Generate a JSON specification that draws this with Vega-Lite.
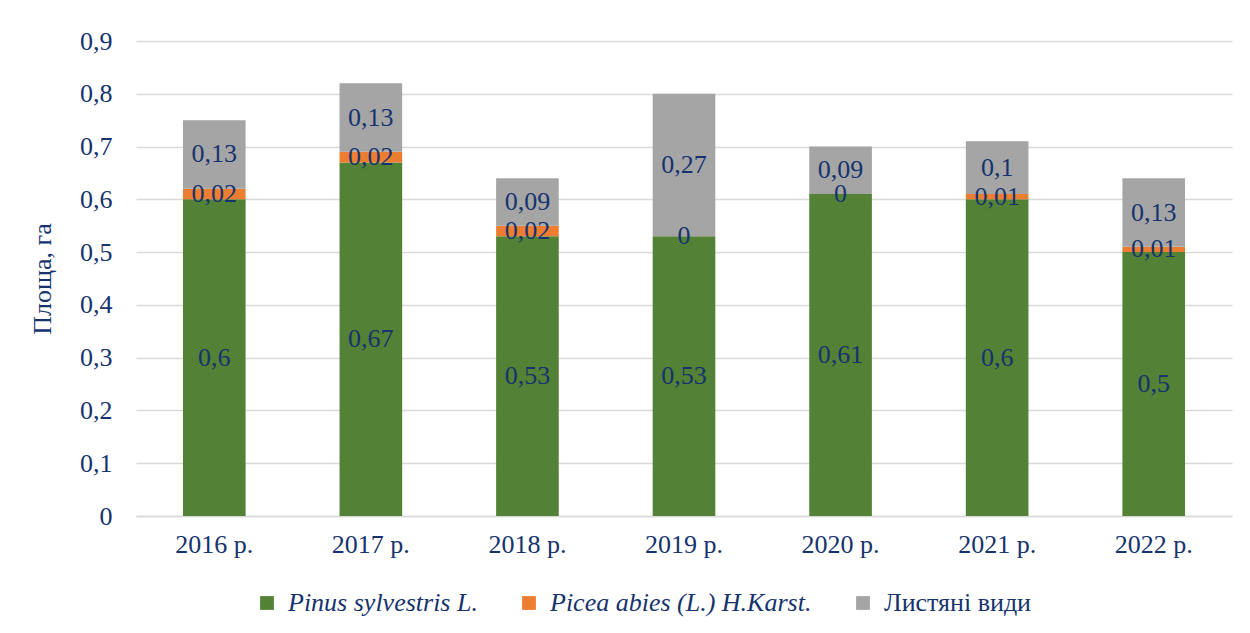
{
  "$schema": "https://vega.github.io/schema/vega-lite/v6.json",
  "width": 1096,
  "height": 475,
  "autosize": {"type": "none"},
  "padding": {"left": 136, "top": 41, "right": 18, "bottom": 117},
  "background": "white",
  "config": {
    "locale": {"number": {"decimal": ",", "thousands": " ", "grouping": [3], "currency": ["", ""]}},
    "font": "Liberation Serif",
    "view": {"stroke": null}
  },
  "data": {
    "values": [
      {"year": "2016 р.", "species": "Pinus sylvestris L.", "k": 1, "value": 0.6},
      {"year": "2016 р.", "species": "Picea abies (L.) H.Karst.", "k": 2, "value": 0.02},
      {"year": "2016 р.", "species": "Листяні види", "k": 3, "value": 0.13},
      {"year": "2017 р.", "species": "Pinus sylvestris L.", "k": 1, "value": 0.67},
      {"year": "2017 р.", "species": "Picea abies (L.) H.Karst.", "k": 2, "value": 0.02},
      {"year": "2017 р.", "species": "Листяні види", "k": 3, "value": 0.13},
      {"year": "2018 р.", "species": "Pinus sylvestris L.", "k": 1, "value": 0.53},
      {"year": "2018 р.", "species": "Picea abies (L.) H.Karst.", "k": 2, "value": 0.02},
      {"year": "2018 р.", "species": "Листяні види", "k": 3, "value": 0.09},
      {"year": "2019 р.", "species": "Pinus sylvestris L.", "k": 1, "value": 0.53},
      {"year": "2019 р.", "species": "Picea abies (L.) H.Karst.", "k": 2, "value": 0},
      {"year": "2019 р.", "species": "Листяні види", "k": 3, "value": 0.27},
      {"year": "2020 р.", "species": "Pinus sylvestris L.", "k": 1, "value": 0.61},
      {"year": "2020 р.", "species": "Picea abies (L.) H.Karst.", "k": 2, "value": 0},
      {"year": "2020 р.", "species": "Листяні види", "k": 3, "value": 0.09},
      {"year": "2021 р.", "species": "Pinus sylvestris L.", "k": 1, "value": 0.6},
      {"year": "2021 р.", "species": "Picea abies (L.) H.Karst.", "k": 2, "value": 0.01},
      {"year": "2021 р.", "species": "Листяні види", "k": 3, "value": 0.1},
      {"year": "2022 р.", "species": "Pinus sylvestris L.", "k": 1, "value": 0.5},
      {"year": "2022 р.", "species": "Picea abies (L.) H.Karst.", "k": 2, "value": 0.01},
      {"year": "2022 р.", "species": "Листяні види", "k": 3, "value": 0.13}
    ]
  },
  "transform": [
    {"stack": "value", "groupby": ["year"], "sort": [{"field": "k", "order": "ascending"}], "as": ["y0", "y1"]},
    {"calculate": "(datum.y0 + datum.y1) / 2", "as": "mid"}
  ],
  "encoding": {
    "x": {
      "field": "year", "type": "nominal",
      "scale": {"paddingInner": 0.6, "paddingOuter": 0.3},
      "axis": {
        "title": null, "labelAngle": 0, "ticks": false,
        "domainColor": "#d9d9d9", "domainWidth": 1.5,
        "labelFontSize": 26, "labelColor": "#16336E", "labelPadding": 15
      }
    }
  },
  "layer": [
    {
      "mark": {"type": "bar"},
      "encoding": {
        "y": {
          "field": "y0", "type": "quantitative",
          "scale": {"domain": [0, 0.9], "nice": false},
          "axis": {
            "title": "Площа, га", "values": [0, 0.1, 0.2, 0.3, 0.4, 0.5, 0.6, 0.7, 0.8, 0.9],
            "format": ".1~f", "grid": true, "gridColor": "#d9d9d9", "gridWidth": 1.5,
            "domain": false, "ticks": false,
            "labelFontSize": 26, "labelColor": "#16336E", "labelPadding": 24,
            "titleFontSize": 26, "titleFontWeight": "normal", "titleColor": "#16336E", "titlePadding": 24
          }
        },
        "y2": {"field": "y1"},
        "color": {
          "field": "species", "type": "nominal",
          "sort": ["Pinus sylvestris L.", "Picea abies (L.) H.Karst.", "Листяні види"],
          "scale": {
            "domain": ["Pinus sylvestris L.", "Picea abies (L.) H.Karst.", "Листяні види"],
            "range": ["#538135", "#ED7D31", "#A5A5A5"]
          },
          "legend": {
            "title": null, "orient": "none", "legendX": 118, "legendY": 549,
            "direction": "horizontal", "symbolType": "square", "symbolSize": 190,
            "symbolStrokeWidth": 0, "labelFontSize": 26, "labelColor": "#16336E",
            "columnPadding": 38, "labelOffset": 8, "labelLimit": 500,
            "encode": {
              "labels": {
                "update": {
                  "fontStyle": {"signal": "datum.label == 'Листяні види' ? 'normal' : 'italic'"}
                }
              }
            }
          }
        }
      }
    },
    {
      "mark": {"type": "text", "fontSize": 26, "color": "#16336E", "baseline": "middle", "align": "center"},
      "encoding": {
        "y": {"field": "mid", "type": "quantitative"},
        "text": {"field": "value", "type": "quantitative", "format": ".2~f"}
      }
    }
  ]
}
